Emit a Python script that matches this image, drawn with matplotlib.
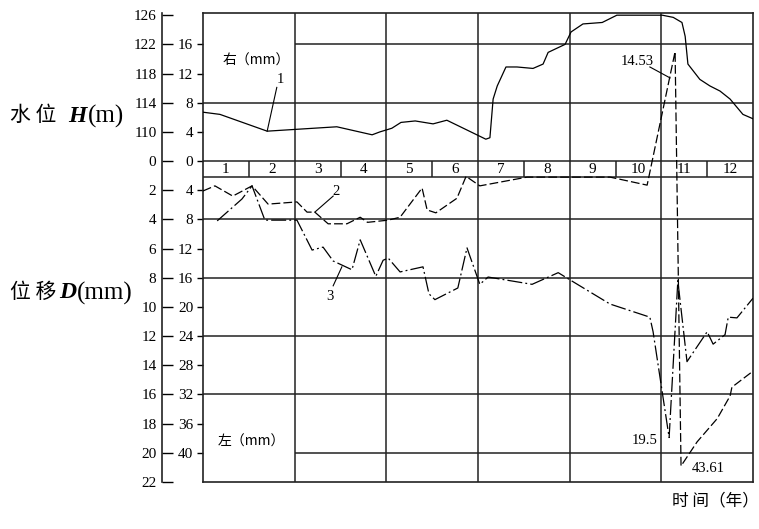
import numpy as np
import matplotlib.pyplot as plt

# curve 1: water level H (m) against month position
h_month = [0, 0.37, 1.40, 2.92, 3.69, 3.86, 4.12, 4.32, 4.63, 5.02, 5.32, 6.04, 6.17,
           6.26, 6.33, 6.42, 6.61, 6.85, 7.20, 7.42, 7.53, 7.90, 8.03, 8.29, 8.71,
           9.03, 10.02, 10.26, 10.45, 10.52, 10.58, 10.84, 11.06, 11.28, 11.50, 11.78, 12.0]
h_level = [112.7, 112.4, 110.1, 110.7, 109.6, 110.0, 110.5, 111.3, 111.5, 111.1, 111.6, 109.4, 109.0,
           109.2, 114.5, 116.3, 118.9, 118.9, 118.7, 119.3, 120.9, 122.0, 123.7, 124.8, 125.0,
           126.0, 126.0, 125.7, 125.0, 123.1, 119.3, 117.2, 116.3, 115.6, 114.5, 112.4, 111.8]

# curve 2 (dashed): displacement mm, + right / - left
d2_month = [0, 0.26, 0.65, 1.07, 1.42, 2.05, 2.27, 2.44, 2.73, 3.14, 3.43, 3.59, 4.04,
            4.30, 4.78, 4.89, 5.08, 5.54, 5.74, 6.04, 7.07, 8.88, 9.69, 10.30, 10.43,
            10.78, 11.22, 11.50, 11.54, 12.0]
d2_disp = [-4.1, -3.4, -4.8, -3.4, -5.9, -5.6, -7.0, -7.0, -8.6, -8.6, -7.7, -8.4, -8.1,
           -7.7, -3.7, -6.7, -7.1, -5.1, -2.1, -3.4, -2.2, -2.2, -3.3, 15.0, -41.8,
           -38.5, -35.3, -32.2, -31.0, -28.8]

# curve 3 (dash-dot)
d3_month = [0.31, 0.85, 1.07, 1.35, 2.05, 2.38, 2.62, 2.84, 3.25, 3.43, 3.77, 3.93, 4.04,
            4.30, 4.80, 4.93, 5.06, 5.56, 5.76, 6.04, 6.22, 7.18, 7.75, 8.01, 8.88,
            9.75, 9.82, 10.17, 10.36, 10.56, 11.00, 11.13, 11.39, 11.46, 11.65, 12.0]
d3_disp = [-8.2, -5.2, -3.4, -8.1, -8.1, -12.2, -11.8, -13.7, -14.9, -10.8, -15.8, -13.6, -13.3,
           -15.2, -14.5, -18.2, -19.0, -17.4, -11.9, -16.9, -15.9, -16.9, -15.3, -16.3, -19.6,
           -21.4, -23.4, -37.9, -16.4, -27.5, -23.4, -25.1, -23.8, -21.4, -21.5, -18.8]

month_labels = [str(i) for i in range(1, 13)]

inner_ticks = [16, 12, 8, 4, 0, -4, -8, -12, -16, -20, -24, -28, -32, -36, -40]
inner_labels = ["16", "12", "8", "4", "0", "4", "8", "12", "16", "20", "24", "28", "32", "36", "40"]
outer_ticks = [20, 16, 12, 8, 4, 0, -4, -8, -12, -16, -20, -24, -28, -32, -36, -40, -44]
outer_labels = ["126", "122", "118", "114", "110", "0", "2", "4", "6", "8", "10", "12",
                "14", "16", "18", "20", "22"]

H_OFFSET = 106  # H (m) -> right-scale mm on the chart
STRIP = -2.2    # bottom of the month strip

SERIF = "Liberation Serif"
CJK = ["Noto Sans CJK SC", "DejaVu Sans"]
W, Hpx = 759, 529

fig = plt.figure(figsize=(W / 100, Hpx / 100), dpi=100)
ax = fig.add_axes([203 / W, 1 - 482 / Hpx, 550 / W, 469 / Hpx])
ax.set_xlim(0, 12)
ax.set_ylim(-44, 20.3)

for s in ax.spines.values():
    s.set_linewidth(1.2)
    s.set_color("#222")

# grid
gkw = dict(color="#222", lw=1.1, zorder=1)
ax.hlines([8, 0, STRIP, -8, -16, -24, -32], 0, 12, **gkw)
ax.hlines([16, -40], 2, 12, **gkw)
ax.vlines([2, 4, 6, 8, 10], -44, 20.3, **gkw)
ax.vlines([1, 3, 5, 7, 9, 11], STRIP, 0, **gkw)
for i, lab in enumerate(month_labels):
    ax.text(i + 0.5, STRIP / 2, lab, ha="center", va="center", family=SERIF, fontsize=11)

# curves
ax.plot(h_month, np.array(h_level) - H_OFFSET, color="black", lw=0.9, zorder=3)
ax.plot(d2_month, d2_disp, color="black", lw=0.9, ls=(0, (7, 2.5)), zorder=3)
ax.plot(d3_month, d3_disp, color="black", lw=0.9, ls=(0, (12, 2.5, 1.5, 2.5)), zorder=3)

# curve numbers and value notes
lkw = dict(color="black", lw=0.8, zorder=3)
ax.plot([1.61, 1.40], [10.1, 4.1], **lkw)
ax.text(1.68, 10.3, "1", family=SERIF, fontsize=10.5, ha="center", va="bottom")
ax.plot([2.84, 2.44], [-4.8, -7.0], **lkw)
ax.text(2.90, -4.2, "2", family=SERIF, fontsize=10.5, ha="center", va="center")
ax.plot([2.84, 3.03], [-17.1, -14.5], **lkw)
ax.text(2.77, -18.6, "3", family=SERIF, fontsize=10.5, ha="center", va="center")
ax.plot([9.75, 10.19], [12.9, 11.4], **lkw)
ax.text(9.47, 13.6, "14.53", family=SERIF, fontsize=10.5, ha="center", va="center")
ax.text(9.64, -38.3, "19.5", family=SERIF, fontsize=10.5, ha="center", va="center")
ax.text(11.02, -42.2, "43.61", family=SERIF, fontsize=10.5, ha="center", va="center")

ax.text(0.42, 13.7, "右（mm）", family=CJK, fontsize=10, va="center")
ax.text(0.33, -38.5, "左（mm）", family=CJK, fontsize=10, va="center")

# inner (mm) scale
ax.set_xticks([])
ax.set_yticks(inner_ticks, labels=inner_labels)
ax.tick_params(axis="y", direction="out", length=4, width=1, pad=3, labelsize=11)
for t in ax.get_yticklabels():
    t.set_family(SERIF)

# outer scale: water level (m) above, displacement D (mm) below
sec = ax.secondary_yaxis((162 - 203) / 550)
sec.set_yticks(outer_ticks, labels=outer_labels)
sec.tick_params(direction="in", length=8, width=1, pad=4, labelsize=11)
sec.spines["left"].set_linewidth(1.2)
sec.spines["left"].set_color("#222")
for t in sec.get_yticklabels():
    t.set_family(SERIF)

def px(x, y):
    return x / W, 1 - y / Hpx

fig.text(*px(10, 115), "水 位", family=CJK, fontsize=15, va="center")
fig.text(*px(68, 116), "H", family=SERIF, style="italic", weight="bold", fontsize=17, va="center")
fig.text(*px(88, 116), "(m)", family=SERIF, fontsize=18, va="center")
fig.text(*px(10, 292), "位 移", family=CJK, fontsize=15, va="center")
fig.text(*px(59, 293), "D", family=SERIF, style="italic", weight="bold", fontsize=17, va="center")
fig.text(*px(77, 293), "(mm)", family=SERIF, fontsize=18, va="center")
fig.text(*px(759, 501), "时 间（年）", family=CJK, fontsize=12, ha="right", va="center")

fig.savefig("out.png", dpi=100)
